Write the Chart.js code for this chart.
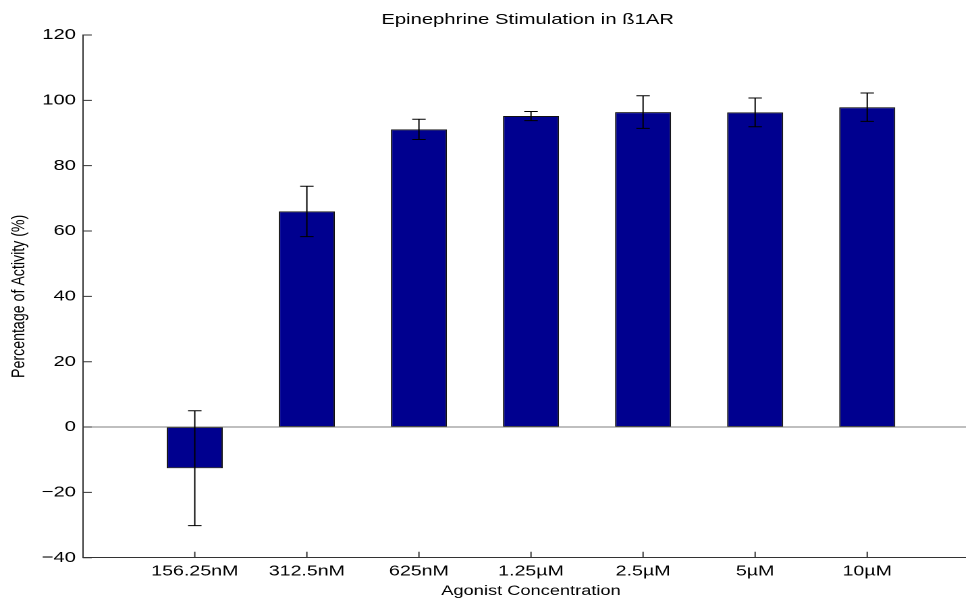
<!DOCTYPE html>
<html>
<head>
<meta charset="utf-8">
<script src="https://cdn.jsdelivr.net/npm/chart.js@4/dist/chart.umd.min.js"></script>
<style>
  html, body { margin: 0; padding: 0; background: #fff; overflow: hidden; width: 966px; height: 598px; }
  #wrap { position: absolute; left: 0; top: 0; width: 740px; height: 598px; transform: scaleX(1.35); transform-origin: 0 0; }
  canvas { display: block; }
</style>
</head>
<body>
<div id="wrap"><canvas id="c" width="740" height="598"></canvas></div>
<script>
// Agonist concentrations (x categories)
const concentrations = ['156.25nM', '312.5nM', '625nM', '1.25µM', '2.5µM', '5µM', '10µM'];
// Mean activity (%) per concentration
const activity = [-12.6, 66.0, 91.1, 95.2, 96.4, 96.3, 97.9];
// Error bar half-lengths (%)
const activityError = [17.6, 7.7, 3.1, 1.4, 5.0, 4.4, 4.35];
// Y axis tick values
const yTicks = [-40, -20, 0, 20, 40, 60, 80, 100, 120];
const chartTitle = 'Epinephrine Stimulation in ß1AR';

const FONT = "'Liberation Sans', Arial, Helvetica, sans-serif";
const AXIS_COLOR = '#333333';

// Title centred over the axes, inward tick marks, zero baseline and error bars
const overlay = {
  id: 'overlay',
  afterDatasetsDraw(chart) {
    const { ctx, chartArea: a, scales: { x, y } } = chart;
    ctx.save();

    // bar baseline at zero
    const y0 = y.getPixelForValue(0);
    ctx.strokeStyle = '#7f7f7f';
    ctx.lineWidth = 1;
    ctx.beginPath();
    ctx.moveTo(a.left, y0);
    ctx.lineTo(a.right, y0);
    ctx.stroke();

    // error bars
    ctx.strokeStyle = '#000';
    ctx.lineWidth = 1;
    const cap = 5;
    activity.forEach((v, i) => {
      const px = x.getPixelForValue(i + 1);
      const top = y.getPixelForValue(v + activityError[i]);
      const bot = y.getPixelForValue(v - activityError[i]);
      ctx.beginPath();
      ctx.moveTo(px, top); ctx.lineTo(px, bot);
      ctx.moveTo(px - cap, top); ctx.lineTo(px + cap, top);
      ctx.moveTo(px - cap, bot); ctx.lineTo(px + cap, bot);
      ctx.stroke();
    });

    // tick marks pointing into the plot
    ctx.strokeStyle = AXIS_COLOR;
    ctx.lineWidth = 1;
    ctx.beginPath();
    yTicks.forEach(t => {
      const py = y.getPixelForValue(t);
      ctx.moveTo(a.left, py);
      ctx.lineTo(a.left + 6.7, py);
    });
    concentrations.forEach((_, i) => {
      const px = x.getPixelForValue(i + 1);
      ctx.moveTo(px, a.bottom);
      ctx.lineTo(px, a.bottom - 6);
    });
    ctx.stroke();

    // title
    ctx.fillStyle = '#000';
    ctx.font = '15px ' + FONT;
    ctx.textAlign = 'center';
    ctx.textBaseline = 'middle';
    ctx.fillText(chartTitle, (a.left + a.right) / 2 - 2.5, 20);
    ctx.restore();
  }
};

new Chart(document.getElementById('c'), {
  type: 'bar',
  data: {
    datasets: [{
      data: concentrations.map((c, i) => ({ x: i + 1, y: activity[i] })),
      backgroundColor: '#00008f',
      borderColor: '#111111',
      borderWidth: 1,
      borderSkipped: false,
      barPercentage: 0.5,
      categoryPercentage: 1.0
    }]
  },
  options: {
    responsive: false,
    devicePixelRatio: 2,
    animation: false,
    layout: { padding: { left: 0, right: 14.6, top: 35, bottom: 0 } },
    plugins: {
      legend: { display: false },
      tooltip: { enabled: false },
      title: { display: false }
    },
    scales: {
      x: {
        type: 'linear',
        offset: false,
        min: 0,
        max: 8,
        afterBuildTicks: s => { s.ticks = concentrations.map((_, i) => ({ value: i + 1 })); },
        afterFit: s => { s.height = 40.3; },
        grid: { display: false, drawTicks: false, tickLength: 0 },
        border: { display: true, color: AXIS_COLOR, width: 1 },
        ticks: {
          autoSkip: false,
          maxRotation: 0,
          padding: 5,
          color: '#000',
          font: { family: FONT, size: 14.5 },
          callback: v => concentrations[v - 1] ?? ''
        },
        title: {
          display: true,
          text: 'Agonist Concentration',
          color: '#000',
          font: { family: FONT, size: 13.5 },
          padding: { top: 0, bottom: -1.5 }
        }
      },
      y: {
        min: -40,
        max: 120,
        offset: false,
        afterBuildTicks: s => { s.ticks = yTicks.map(v => ({ value: v })); },
        afterFit: s => { s.width = 61.26; },
        grid: { display: false, drawTicks: false, tickLength: 0 },
        border: { display: true, color: AXIS_COLOR, width: 1 },
        ticks: {
          padding: 5,
          color: '#000',
          font: { family: FONT, size: 15 },
          callback: v => (v < 0 ? '\u2212' + Math.abs(v) : String(v))
        },
        title: {
          display: true,
          text: 'Percentage of Activity (%)',
          color: '#000',
          font: { family: FONT, size: 14.2 },
          padding: { top: 5.8, bottom: 0 }
        }
      }
    }
  },
  plugins: [overlay]
});
</script>
</body>
</html>
